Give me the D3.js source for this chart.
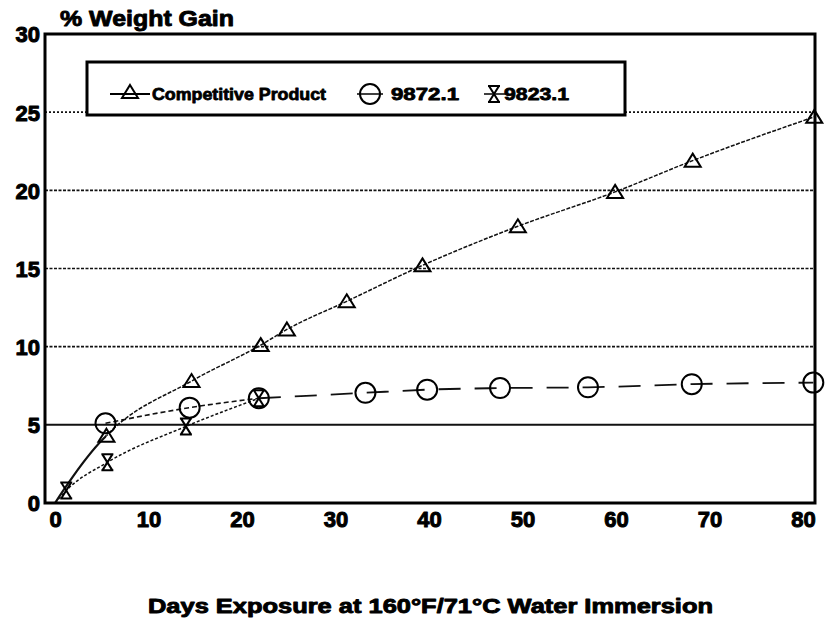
<!DOCTYPE html>
<html><head><meta charset="utf-8">
<script src="https://cdn.jsdelivr.net/npm/d3@7"></script>
<style>body{margin:0;background:#fff}</style>
</head><body>
<svg id="c" width="825" height="621"></svg>
<script>
const xTicks = [0,10,20,30,40,50,60,70,80];
const yTicks = [0,5,10,15,20,25,30];
const seriesNames = ["Competitive Product","9872.1","9823.1"];
const compX = [0,5.5,14.6,22,24.8,31.2,39.3,49.5,59.9,68.2,81.2];
const compY = [0,4.3,7.8,10.1,11.1,12.9,15.2,17.7,19.9,21.9,24.7];
const c9872X = [0,5.4,14.4,21.8,33.2,39.8,47.6,57,68.1,81.1];
const c9872Y = [0,5.1,6.1,6.7,7.05,7.25,7.35,7.4,7.6,7.7];
const c9823X = [0,1.2,5.6,14,21.8];
const c9823Y = [0,0.8,2.6,4.9,6.7];
const titleText = "% Weight Gain";
const xLabel = "Days Exposure at 160°F/71°C Water Immersion";

const svg = d3.select("#c");
const L=45,R=815,T=34,B=503;
const x = d3.scaleLinear().domain([-1.07,81.28]).range([L,R]);
const y = d3.scaleLinear().domain([0,30]).range([B,T]);
const font = "'Liberation Sans', Arial, sans-serif";
function heavy(sel,w){ sel.attr("font-family",font).attr("font-weight","bold").attr("fill","#000").attr("stroke","#000").attr("stroke-width",w).attr("stroke-linejoin","round"); }

// gridlines
svg.append("g").selectAll("line").data(yTicks.filter(v=>v>0&&v<30)).join("line")
  .attr("x1",L).attr("x2",R).attr("y1",d=>y(d)).attr("y2",d=>y(d))
  .attr("stroke","#111")
  .attr("stroke-width",d=>d===5?2:1.6)
  .attr("stroke-dasharray",d=>d===5?null:(d===25?"2,2":"3,1.5"));

// axes (labels only)
const yAxis = d3.axisLeft(y).tickValues(yTicks).tickSize(0).tickPadding(5);
const gy = svg.append("g").attr("transform",`translate(${L},0)`).call(yAxis);
gy.select(".domain").remove();
gy.selectAll("text").call(heavy,1).attr("font-size",22).attr("dy","0.36em");
const xAxis = d3.axisBottom(x).tickValues(xTicks).tickSize(0).tickPadding(8);
const gx = svg.append("g").attr("transform",`translate(0,${B})`).call(xAxis);
gx.select(".domain").remove();
gx.selectAll("text").call(heavy,1).attr("font-size",22);

// lines
svg.append("clipPath").attr("id","early").append("rect").attr("x",L).attr("y",T).attr("width",x(5.5)-L).attr("height",B-T);
svg.append("clipPath").attr("id","late").append("rect").attr("x",x(5.5)).attr("y",T).attr("width",R-x(5.5)).attr("height",B-T);
const line = d3.line().x(d=>x(d[0])).y(d=>y(d[1])).curve(d3.curveMonotoneX);
const comp = compX.map((v,i)=>[v,compY[i]]);
const s9872 = c9872X.map((v,i)=>[v,c9872Y[i]]);
const s9823 = c9823X.map((v,i)=>[v,c9823Y[i]]);
const g = svg.append("g").attr("fill","none").attr("stroke","#111");
g.append("path").attr("d",d3.line().x(d=>x(d[0])).y(d=>y(d[1])).curve(d3.curveCatmullRom)(comp)).attr("stroke-width",2.2).attr("clip-path","url(#early)");
g.append("path").attr("d",line(comp)).attr("stroke-width",1.5).attr("stroke-dasharray","4,1.5").attr("clip-path","url(#late)");
g.append("path").attr("d",line(s9872.slice(1,4))).attr("stroke-width",1.6).attr("stroke-dasharray","5,3");
g.append("path").attr("d",line(s9872.slice(3))).attr("stroke-width",1.8).attr("stroke-dasharray","22,14");
g.append("path").attr("d",line(s9823)).attr("stroke-width",1.5).attr("stroke-dasharray","3,2");

// markers
function tri(sel){ sel.append("path").attr("d","M0,-7L8,6L-8,6Z").attr("fill","none").attr("stroke","#000").attr("stroke-width",2); }
function circ(sel){ sel.append("circle").attr("r",10).attr("fill","none").attr("stroke","#000").attr("stroke-width",2); }
function hour(sel){ sel.append("path").attr("d","M-6,-8L6,-8M-5,-8L5,8M5,-8L-5,8M-6,8L6,8").attr("fill","none").attr("stroke","#000").attr("stroke-width",2); }
const m = svg.append("g");
m.selectAll(".t").data(comp.slice(1)).join("g").attr("transform",d=>`translate(${x(d[0])},${y(d[1])})`).call(tri);
m.selectAll(".c").data(s9872.slice(1)).join("g").attr("transform",d=>`translate(${x(d[0])},${y(d[1])})`).call(circ);
m.selectAll(".h").data(s9823.slice(1)).join("g").attr("transform",d=>`translate(${x(d[0])},${y(d[1])})`).call(hour);

// frame
svg.append("rect").attr("x",L).attr("y",T).attr("width",R-L).attr("height",B-T).attr("fill","none").attr("stroke","#000").attr("stroke-width",3);

// legend
const lg = svg.append("g");
lg.append("rect").attr("x",87).attr("y",62).attr("width",538).attr("height",53).attr("fill","#fff").attr("stroke","#000").attr("stroke-width",3);
const ly = 94;
lg.append("line").attr("x1",110).attr("x2",150).attr("y1",ly).attr("y2",ly).attr("stroke","#000").attr("stroke-width",2);
lg.append("g").attr("transform",`translate(130,${ly-2})`).call(tri);
lg.append("line").attr("x1",357).attr("x2",383).attr("y1",ly).attr("y2",ly).attr("stroke","#000").attr("stroke-width",1.5);
lg.append("g").attr("transform",`translate(370,${ly})`).call(circ);
lg.append("line").attr("x1",484).attr("x2",506).attr("y1",ly).attr("y2",ly).attr("stroke","#000").attr("stroke-width",1.5);
lg.append("g").attr("transform",`translate(494,${ly})`).call(hour);
const lt = [[seriesNames[0],152,174],[seriesNames[1],391,68],[seriesNames[2],504,65]];
lg.selectAll("text").data(lt).join("text").attr("x",d=>d[1]).attr("y",ly+6)
  .attr("textLength",d=>d[2]).attr("lengthAdjust","spacingAndGlyphs")
  .call(heavy,0.8).attr("font-size",17).text(d=>d[0]);

// titles
svg.append("text").attr("x",60).attr("y",26).call(heavy,0.9).attr("font-size",22)
  .attr("textLength",174).attr("lengthAdjust","spacingAndGlyphs").text(titleText);
svg.append("text").attr("x",148).attr("y",613).call(heavy,0.9).attr("font-size",20)
  .attr("textLength",565).attr("lengthAdjust","spacingAndGlyphs").text(xLabel);
</script>
</body></html>
